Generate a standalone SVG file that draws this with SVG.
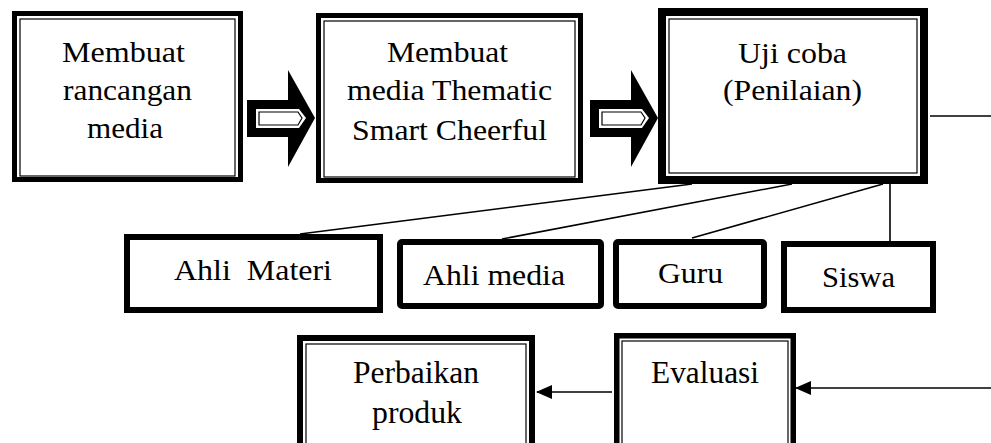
<svg xmlns="http://www.w3.org/2000/svg" width="991" height="443" viewBox="0 0 991 443">
<style>
text{font-family:"Liberation Serif","Times New Roman",serif;fill:#000}
.t{font-size:30px}
.t3{font-size:31px}
.thick{fill:#fff;stroke:#000}
.thin{fill:none;stroke:#000;stroke-width:1.2}
.con{fill:none;stroke:#000;stroke-width:1.6}
</style>
<defs>
<marker id="ah" viewBox="0 0 16 14" refX="15" refY="7" markerWidth="16" markerHeight="14" markerUnits="userSpaceOnUse" orient="auto">
<path d="M0,0 L16,7 L0,14 Z" fill="#000"/>
</marker>
<g id="blockarrow">
<path d="M0,30 H41 V0 L68,48 L41,97 V67 H0 Z" fill="#000"/>
<path d="M9,39 H52 L59,48 L52,58 H9 Z" fill="#fff"/>
<path d="M12,42 H51 L55,48 L51,55 H12 Z" fill="#fff" stroke="#000" stroke-width="1.2"/>
</g>
</defs>
<rect width="991" height="443" fill="#fff"/>

<g id="connectors">
<use href="#blockarrow" x="247" y="70"/>
<use href="#blockarrow" x="590" y="70"/>
<line class="con" x1="692" y1="184" x2="300" y2="234"/>
<line class="con" x1="792" y1="184" x2="502" y2="239"/>
<line class="con" x1="883" y1="184" x2="692" y2="238"/>
<line class="con" x1="890" y1="184" x2="890" y2="241"/>
<line class="con" x1="930" y1="116" x2="991" y2="116"/>
<line class="con" x1="991" y1="388" x2="796" y2="388" marker-end="url(#ah)"/>
<line class="con" x1="612" y1="392" x2="537" y2="392" marker-end="url(#ah)"/>
</g>

<g id="n1">
<rect class="thick" x="14.5" y="13.5" width="226" height="166" stroke-width="5"/>
<rect class="thin" x="20" y="19" width="215" height="157"/>
<text class="t" x="62" y="62" textLength="123" lengthAdjust="spacingAndGlyphs">Membuat</text>
<text class="t" x="63" y="100" textLength="129" lengthAdjust="spacingAndGlyphs">rancangan</text>
<text class="t" x="87" y="138" textLength="76" lengthAdjust="spacingAndGlyphs">media</text>
</g>

<g id="n2">
<rect class="thick" x="318.5" y="15.5" width="262" height="165" stroke-width="5"/>
<rect class="thin" x="324" y="21" width="251" height="156"/>
<text class="t" x="387" y="62" textLength="121" lengthAdjust="spacingAndGlyphs">Membuat</text>
<text class="t" x="347" y="100" textLength="205" lengthAdjust="spacingAndGlyphs">media Thematic</text>
<text class="t" x="352" y="140" textLength="195" lengthAdjust="spacingAndGlyphs">Smart Cheerful</text>
</g>

<g id="n3">
<rect class="thick" x="662" y="12" width="262" height="168" stroke-width="8"/>
<rect class="thin" x="669" y="19" width="248" height="154"/>
<text class="t" x="738" y="63" textLength="109" lengthAdjust="spacingAndGlyphs">Uji coba</text>
<text class="t" x="723" y="100" textLength="139" lengthAdjust="spacingAndGlyphs">(Penilaian)</text>
</g>

<g id="n4">
<rect class="thick" x="127" y="237" width="253" height="73" stroke-width="6"/>
<text class="t" x="174" y="280" textLength="158" lengthAdjust="spacingAndGlyphs" xml:space="preserve">Ahli  Materi</text>
</g>

<g id="n5">
<rect class="thick" x="400" y="242" width="201" height="64" rx="2" stroke-width="6"/>
<text class="t" x="423" y="285" textLength="142" lengthAdjust="spacingAndGlyphs">Ahli media</text>
</g>

<g id="n6">
<rect class="thick" x="616" y="242" width="148" height="64" rx="2" stroke-width="6"/>
<text class="t" x="658" y="283" textLength="65" lengthAdjust="spacingAndGlyphs">Guru</text>
</g>

<g id="n7">
<rect class="thick" x="784" y="244" width="149" height="66" stroke-width="6"/>
<text class="t" x="822" y="287" textLength="73" lengthAdjust="spacingAndGlyphs">Siswa</text>
</g>

<g id="n8">
<rect class="thick" x="300" y="338" width="232" height="120" stroke-width="6"/>
<rect class="thin" x="306" y="344" width="220" height="110"/>
<text class="t3" x="353" y="383" textLength="126" lengthAdjust="spacingAndGlyphs">Perbaikan</text>
<text class="t3" x="372" y="423" textLength="90" lengthAdjust="spacingAndGlyphs">produk</text>
</g>

<g id="n9">
<rect class="thick" x="616.75" y="335.75" width="176.5" height="120" stroke-width="5.5"/>
<rect class="thin" x="622" y="341" width="166" height="110"/>
<text class="t3" x="651" y="383" textLength="108" lengthAdjust="spacingAndGlyphs">Evaluasi</text>
</g>
</svg>
